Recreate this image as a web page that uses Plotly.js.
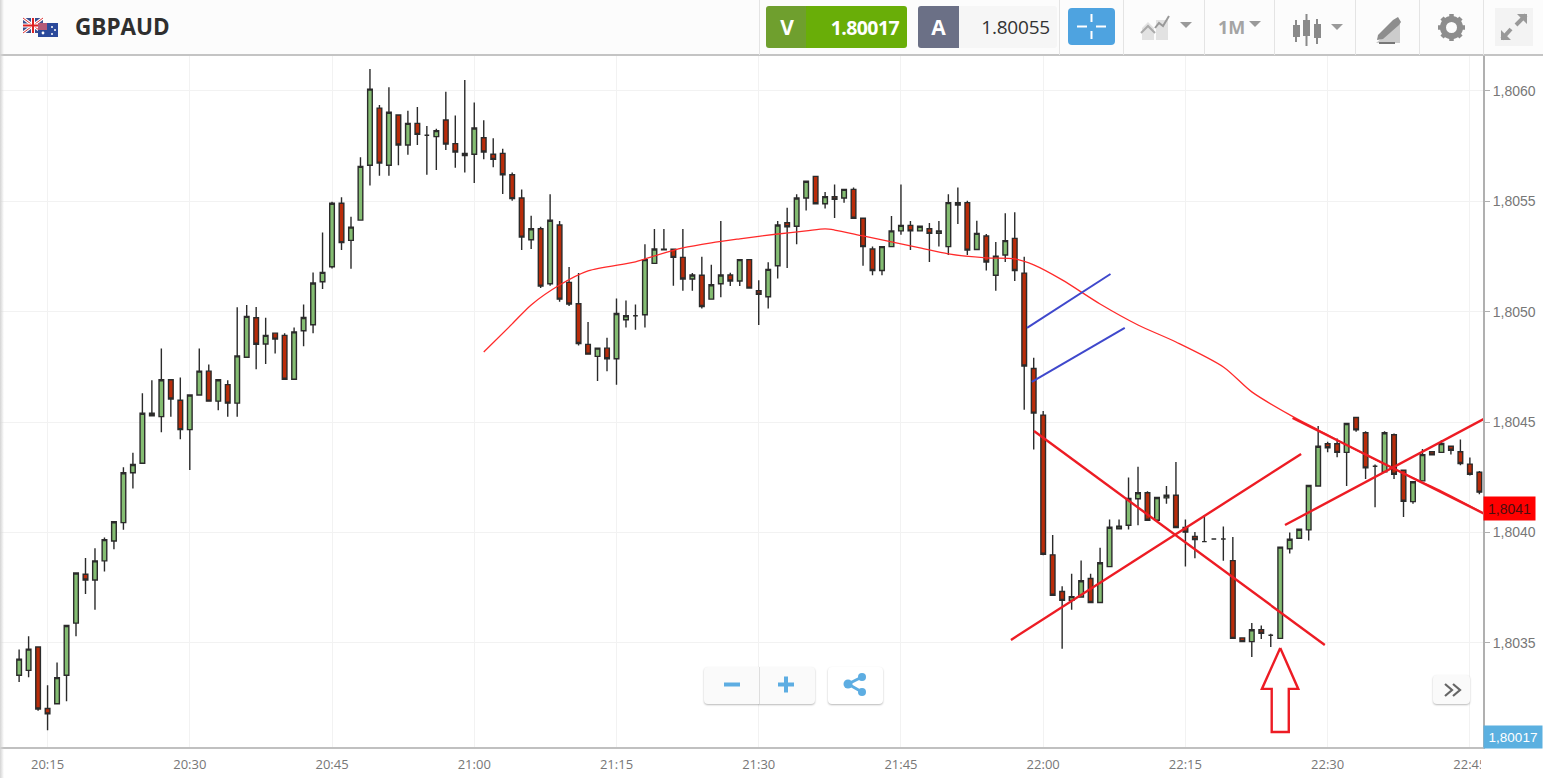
<!DOCTYPE html>
<html>
<head>
<meta charset="utf-8">
<script src="https://cdn.plot.ly/plotly-3.0.1.min.js"></script>
<style>
html,body{margin:0;padding:0;background:#fff;overflow:hidden;width:1543px;height:778px;font-family:"Open Sans",sans-serif}
#chart{position:absolute;left:0;top:0;width:1543px;height:778px}
.o{position:absolute;box-sizing:border-box}
.sep{position:absolute;top:0;width:1px;height:55px;background:#e4e4e4}
.btn{background:#fafafa;border-radius:4px;box-shadow:0 1px 2px rgba(0,0,0,.28)}
.t{display:flex;align-items:center;justify-content:center}
svg{position:absolute;overflow:visible}
</style>
</head>
<body>
<div id="chart"></div>
<div class="o" style="left:0;top:0;width:1543px;height:56px;background:#fcfcfc;border-bottom:2px solid #c4c4c4"></div>
<div class="o" style="left:0;top:0;width:4px;height:778px;background:linear-gradient(90deg,#d4d4d4,#fff0)"></div>
<div class="o" style="left:1481px;top:750px;width:62px;height:28px;background:#fff"></div>
<svg style="left:22px;top:17px" width="38" height="22" viewBox="0 0 38 22">
 <rect x="1" y="1" width="20" height="15" fill="#3b4f8f"/><path d="M1 1L21 16M21 1L1 16" stroke="#fff" stroke-width="3"/><path d="M1 1L21 16M21 1L1 16" stroke="#d33" stroke-width="1"/><path d="M11 1V16M1 8.5H21" stroke="#fff" stroke-width="4"/><path d="M11 1V16M1 8.5H21" stroke="#d22" stroke-width="2"/>
 <rect x="16" y="6" width="20" height="14" fill="#2b4a9b"/><rect x="16" y="6" width="9" height="7" fill="#b45a78"/><circle cx="30" cy="10" r="1" fill="#fff"/><circle cx="33" cy="13" r="1" fill="#fff"/><circle cx="30" cy="17" r="1" fill="#fff"/><circle cx="21" cy="16" r="1.4" fill="#fff"/>
</svg>
<div class="o" style="left:75px;top:11px;font-size:22.5px;font-weight:700;color:#2f2f2f;line-height:32px">GBPAUD</div>
<div class="sep" style="left:759px"></div><div class="sep" style="left:1059px"></div><div class="sep" style="left:1123px"></div><div class="sep" style="left:1204px"></div><div class="sep" style="left:1274px"></div><div class="sep" style="left:1355px"></div><div class="sep" style="left:1419px"></div><div class="sep" style="left:1483px"></div>
<div class="o t" style="left:766px;top:6px;width:42px;height:42px;background:#6f9f2e;color:#fff;font-weight:700;font-size:21px;border-radius:3px 0 0 3px">V</div>
<div class="o t" style="left:806px;top:6px;width:101px;height:42px;background:#69ae08;color:#fff;font-weight:700;font-size:19.5px;letter-spacing:-.6px;border-radius:0 3px 3px 0;justify-content:flex-end;padding-right:8px">1.80017</div>
<div class="o t" style="left:918px;top:6px;width:41px;height:42px;background:#6b7086;color:#fff;font-weight:700;font-size:21px;border-radius:3px 0 0 3px">A</div>
<div class="o t" style="left:959px;top:6px;width:98px;height:42px;background:#f6f6f6;color:#333;font-size:19px;letter-spacing:-.2px;border-radius:0 3px 3px 0;justify-content:flex-end;padding-right:7px">1.80055</div>
<div class="o" style="left:1068px;top:8px;width:47px;height:37px;background:#4ea3e0;border-radius:4px"></div>
<svg style="left:1068px;top:8px" width="47" height="37"><path d="M23.5 6V14M23.5 23V31M9 18.5H19M28 18.5H38" stroke="#fff" stroke-width="2"/></svg>
<svg style="left:1140px;top:14px" width="56" height="30"><path d="M2 26V14L8 8L14 14V26ZM16 26V6H28V26Z" fill="#e2e2e2"/><path d="M1 19L8 12L15 19" fill="none" stroke="#aaa" stroke-width="2"/><path d="M15 14L19 9L23 12L29 2" fill="none" stroke="#999" stroke-width="2"/><path d="M40 8H52L46 14Z" fill="#9a9a9a"/></svg>
<div class="o" style="left:1218px;top:14px;font-size:18px;font-weight:700;color:#a4a4a4;line-height:26px">1M</div>
<svg style="left:1248px;top:20px" width="14" height="8"><path d="M1 1H13L7 7Z" fill="#9a9a9a"/></svg>
<svg style="left:1292px;top:14px" width="56" height="32"><path d="M4 6V28M14.500 0V32M25 5V30" stroke="#8a8a8a" stroke-width="2"/><rect x="1" y="11" width="7" height="12" fill="#8a8a8a"/><rect x="11" y="6" width="7" height="16" fill="#8a8a8a"/><rect x="22" y="10" width="7" height="14" fill="#8a8a8a"/><path d="M39 10H51L45 16Z" fill="#9a9a9a"/></svg>
<svg style="left:1374px;top:16px" width="30" height="28"><path d="M2 27L26 27V7Z" fill="#ccc"/><path d="M3 24L4 19L19 4L24 1L27 6L25 9L9 23Z" fill="#8d8d8d"/><path d="M5 27L21 27" stroke="#777" stroke-width="2"/></svg>
<svg style="left:1437px;top:13px" width="29" height="29" viewBox="0 0 29 29"><circle cx="14.5" cy="14.500" r="8.500" fill="none" stroke="#8d8d8d" stroke-width="6"/><path d="M14.500 1V28M1 14.500H28M5 5L24 24M24 5L5 24" stroke="#8d8d8d" stroke-width="4.500" stroke-dasharray="4 19"/></svg>
<div class="o" style="left:1495px;top:8px;width:38px;height:38px;background:#f3f3f3"></div>
<svg style="left:1500px;top:13px" width="28" height="28"><path d="M16 12L26 2M11 16L2 26" stroke="#999" stroke-width="4"/><path d="M17 1H27V11ZM1 17V27H11Z" fill="#999"/></svg>
<div class="o btn" style="left:704px;top:667px;width:111px;height:37px"></div>
<div class="o" style="left:759px;top:667px;width:1px;height:37px;background:#dedede"></div>
<svg style="left:722px;top:674px" width="74" height="22"><path d="M2 10.500H18M56 10.500H72M64 2.500V18.500" stroke="#5dade2" stroke-width="4"/></svg>
<div class="o btn" style="left:828px;top:667px;width:55px;height:37px;background:#fff"></div>
<svg style="left:843px;top:672px" width="24" height="24"><path d="M5 12L19 5M5 12L19 20" stroke="#5dade2" stroke-width="3"/><circle cx="5" cy="12" r="4.500" fill="#5dade2"/><circle cx="19" cy="5" r="4" fill="#5dade2"/><circle cx="19" cy="20" r="4" fill="#5dade2"/></svg>
<div class="o btn" style="left:1433px;top:675px;width:37px;height:29px"></div>
<svg style="left:1443px;top:682px" width="20" height="16"><path d="M2 2L9 8L2 14M10 2L17 8L10 14" fill="none" stroke="#666" stroke-width="2.200"/></svg>
<script>
const day = '2024-03-05 ';
const firstCandleMinute = 20 * 60 + 12;
const priceOpen = [
1.803354,1.803376,1.803482,1.803203,1.803225,1.803354,1.80359,1.803811,1.803785,1.803872,
1.803962,1.804045,1.804271,1.804314,1.80454,1.804525,1.804692,1.804599,1.804466,1.804623,
1.804731,1.804595,1.80467,1.804586,1.804794,1.804973,1.804854,1.804903,1.804893,1.804694,
1.804914,1.804941,1.805136,1.805204,1.805491,1.805323,1.805415,1.805663,1.805922,1.805663,
1.805891,1.805755,1.805853,1.805799,1.805793,1.805868,1.805761,1.805717,1.805713,1.805788,
1.805713,1.805717,1.80562,1.805515,1.805326,1.805376,1.805127,1.805393,1.805133,1.805036,
1.804852,1.804798,1.804835,1.804787,1.804964,1.804982,1.804986,1.805219,1.805283,1.805283,
1.805246,1.805148,1.805165,1.805057,1.805127,1.805166,1.805139,1.805236,1.805095,1.805068,
1.805208,1.805403,1.805387,1.805515,1.805613,1.805489,1.805521,1.805515,1.805554,1.805423,
1.805284,1.805187,1.805295,1.805366,1.805391,1.805366,1.805376,1.805355,1.805295,1.805494,
1.805494,1.805282,1.805343,1.805165,1.805257,1.805332,1.805175,1.804743,1.804532,1.803899,
1.803733,1.803693,1.803708,1.803792,1.803683,1.803846,1.804017,1.804033,1.804153,1.80418,
1.804056,1.804157,1.804169,1.804023,1.803982,1.803959,1.803971,1.803971,1.803873,1.803523,
1.803506,1.80356,1.803535,1.803521,1.803927,1.803974,1.804012,1.804211,1.804402,1.804402,
1.804363,1.804521,1.804452,1.8043,1.804275,1.804443,1.804282,1.80414,1.804234,1.804366,
1.804363,1.804391,1.804366,1.80431,1.804273];
const priceHigh = [
1.803471,1.80353,1.803482,1.803309,1.803412,1.803579,1.803817,1.803885,1.803929,1.803978,
1.804049,1.804296,1.804361,1.804631,1.80469,1.804833,1.804692,1.804702,1.804623,1.804833,
1.804761,1.804692,1.80469,1.80502,1.80503,1.805021,1.804973,1.804903,1.804902,1.804929,
1.805033,1.805178,1.805359,1.805498,1.805518,1.80543,1.805699,1.806099,1.805936,1.806017,
1.805891,1.80591,1.805927,1.805841,1.805829,1.805996,1.805889,1.806049,1.805948,1.805867,
1.805785,1.805738,1.805631,1.805553,1.805435,1.805385,1.805532,1.805411,1.805202,1.805175,
1.804953,1.804835,1.804882,1.80506,1.805051,1.805033,1.805305,1.805375,1.805375,1.805283,
1.805375,1.805175,1.805249,1.805213,1.805411,1.805177,1.805236,1.805236,1.805142,1.805224,
1.805411,1.805471,1.805532,1.805591,1.805613,1.805542,1.805576,1.805554,1.805563,1.805423,
1.805295,1.805295,1.805434,1.805576,1.805411,1.805387,1.805402,1.805411,1.805532,1.805563,
1.805502,1.805412,1.805352,1.805316,1.805446,1.80545,1.805249,1.804792,1.804551,1.803989,
1.803757,1.803813,1.803873,1.803814,1.803931,1.804059,1.804059,1.804249,1.804298,1.804187,
1.804159,1.804211,1.80432,1.804059,1.804003,1.804079,1.803971,1.804027,1.80398,1.803523,
1.803591,1.803579,1.803542,1.803934,1.804,1.804015,1.804213,1.804482,1.804411,1.804426,
1.804494,1.804521,1.804459,1.804308,1.804459,1.804449,1.804282,1.80423,1.804378,1.804366,
1.804418,1.804391,1.804421,1.80434,1.804279];
const priceLow = [
1.803323,1.803345,1.803193,1.803105,1.803225,1.803236,1.803531,1.803722,1.803651,1.803824,
1.803925,1.804013,1.8042,1.804314,1.804529,1.804454,1.804525,1.804422,1.804283,1.804623,
1.804595,1.804554,1.804525,1.804525,1.804794,1.80474,1.804763,1.804811,1.804694,1.804694,
1.804844,1.804902,1.805103,1.805196,1.805279,1.805195,1.805415,1.805572,1.805616,1.805616,
1.805663,1.805711,1.805755,1.80562,1.805642,1.805732,1.805652,1.805631,1.805583,1.80569,
1.805654,1.805533,1.805503,1.805279,1.805284,1.805107,1.805118,1.805045,1.805026,1.804847,
1.804808,1.804686,1.80473,1.804669,1.804929,1.804918,1.804929,1.805219,1.80528,1.805118,
1.805095,1.805095,1.805015,1.805057,1.805066,1.805116,1.805116,1.805107,1.80494,1.805015,
1.80515,1.805198,1.805305,1.805458,1.805489,1.805467,1.805424,1.805494,1.805423,1.805208,
1.805165,1.805165,1.805295,1.805349,1.805279,1.805366,1.805225,1.805295,1.805257,1.805397,
1.805257,1.805282,1.805187,1.805095,1.805225,1.805139,1.804556,1.804376,1.803897,1.803716,
1.803474,1.803651,1.803708,1.803683,1.803683,1.803846,1.804017,1.804014,1.804033,1.804056,
1.804056,1.804131,1.804023,1.803846,1.803884,1.803959,1.803971,1.803872,1.803521,1.803506,
1.803437,1.803518,1.803482,1.803521,1.803905,1.803974,1.803964,1.804211,1.804364,1.804341,
1.804211,1.804456,1.804243,1.804115,1.804275,1.804243,1.804071,1.804131,1.804234,1.804352,
1.804363,1.804353,1.804305,1.804258,1.804174];
const priceClose = [
1.803427,1.803472,1.803201,1.803179,1.803343,1.803579,1.803817,1.803785,1.803872,1.803968,
1.804049,1.804271,1.804308,1.80454,1.804529,1.804692,1.804605,1.804466,1.804623,1.804731,
1.804595,1.804692,1.804586,1.8048,1.804979,1.804853,1.804893,1.804876,1.804694,1.804909,
1.804974,1.80513,1.805178,1.805491,1.805313,1.805383,1.805658,1.806008,1.805673,1.805903,
1.805755,1.805853,1.805803,1.805799,1.80582,1.805759,1.805723,1.805707,1.805832,1.805723,
1.80569,1.80562,1.805512,1.805338,1.805376,1.805116,1.805414,1.805057,1.805035,1.804856,
1.804808,1.804835,1.804787,1.804992,1.804982,1.804982,1.805236,1.805284,1.80528,1.805246,
1.805148,1.805166,1.805024,1.805122,1.805166,1.805139,1.805236,1.805107,1.805079,1.805192,
1.805393,1.805385,1.805515,1.805591,1.805489,1.805521,1.805509,1.805554,1.805423,1.805295,
1.805187,1.805295,1.805366,1.805391,1.805366,1.805387,1.805355,1.805366,1.805494,1.805483,
1.805279,1.805355,1.805225,1.805252,1.805322,1.805187,1.804754,1.804541,1.803902,1.803716,
1.803693,1.80371,1.803782,1.803683,1.803863,1.804024,1.804029,1.804154,1.80418,1.804056,
1.804159,1.804169,1.804023,1.804002,1.803968,1.803959,1.803971,1.803971,1.803521,1.803506,
1.80356,1.803544,1.803535,1.803934,1.80397,1.804015,1.804213,1.804391,1.804384,1.804363,
1.804494,1.804465,1.804293,1.8043,1.804452,1.804264,1.804142,1.80423,1.804353,1.804352,
1.804403,1.804373,1.804313,1.804264,1.804183];

const maTimes = ['21:01','21:04','21:06','21:09','21:12','21:17','21:19','21:22','21:25','21:28','21:32','21:35','21:37','21:38','21:41','21:44','21:47','21:50','21:54','21:57','21:59','22:02','22:06','22:10','22:14','22:19','22:22','22:26','22:29','22:33','22:37','22:42','22:46'];
const maValues = [1.804818,1.804945,1.805031,1.805121,1.805185,1.805226,1.805253,1.805289,1.805312,1.80533,1.805352,1.805366,1.805375,1.80537,1.805343,1.805316,1.805289,1.805262,1.805244,1.805239,1.805212,1.805144,1.805035,1.80494,1.804863,1.80475,1.804637,1.804533,1.804465,1.804374,1.804288,1.804188,1.804098];

const redLine1Times = ['21:59:02','22:29:42'];  const redLine1Prices = [1.80446,1.803491];
const redLine2Times = ['21:56:36','22:27:12'];  const redLine2Prices = [1.803514,1.804356];
const redLine3Times = ['22:25:30','22:47:51'];  const redLine3Prices = [1.804034,1.804546];
const redLine4Times = ['22:26:18','22:47:36'];  const redLine4Prices = [1.804519,1.804062];
const blueLine1Times = ['21:58:18','22:07:06']; const blueLine1Prices = [1.804927,1.805171];
const blueLine2Times = ['21:58:48','22:08:36']; const blueLine2Prices = [1.804682,1.804927];
const arrowTimes = ['22:25:00','22:26:54','22:25:54','22:25:54','22:24:06','22:24:06','22:23:04','22:25:00'];
const arrowPrices = [1.803477,1.803292,1.803292,1.803097,1.803097,1.803292,1.803292,1.803477];

const xTickTimes = ['20:15','20:30','20:45','21:00','21:15','21:30','21:45','22:00','22:15','22:30','22:45'];
const yTickValues = [1.8035,1.804,1.8045,1.805,1.8055,1.806];
const yTickLabels = ['1,8035','1,8040','1,8045','1,8050','1,8055','1,8060'];

const at = t => day + (t.length === 5 ? t + ':00' : t);
const candleTimes = priceOpen.map((_, i) => {
  const m = firstCandleMinute + i;
  return day + String(Math.floor(m / 60)).padStart(2, '0') + ':' + String(m % 60).padStart(2, '0') + ':00';
});
const seg = (xs, ys, color, width, shape) => ({type:'scatter', mode:'lines', x:xs.map(at), y:ys, line:{color, width, shape:shape || 'linear', smoothing:0.8}, cliponaxis:false, hoverinfo:'skip', showlegend:false});
const axisFont = '"Liberation Sans", Arial, sans-serif';

const traces = [
  {type:'candlestick', x:candleTimes, open:priceOpen, high:priceHigh, low:priceLow, close:priceClose,
   increasing:{fillcolor:'#84bd72', line:{color:'#2b2b2b', width:1.4}},
   decreasing:{fillcolor:'#b92c0a', line:{color:'#2b2b2b', width:1.4}},
   whiskerwidth:0, hoverinfo:'skip', showlegend:false},
  seg(maTimes, maValues, '#ff2a2a', 1.3, 'spline'),
  seg(blueLine1Times, blueLine1Prices, '#3f48cc', 2),
  seg(blueLine2Times, blueLine2Prices, '#3f48cc', 2),
  seg(redLine1Times, redLine1Prices, '#ed1c24', 2.4),
  seg(redLine2Times, redLine2Prices, '#ed1c24', 2.4),
  seg(redLine3Times, redLine3Prices, '#ed1c24', 2.4),
  seg(redLine4Times, redLine4Prices, '#ed1c24', 2.4),
  seg(arrowTimes, arrowPrices, '#ed1c24', 2.4)
];
const layout = {
  width:1543, height:778, paper_bgcolor:'#fff', plot_bgcolor:'#fff',
  margin:{l:0, r:60, t:56, b:31, pad:0}, showlegend:false, boxgap:0.3,
  font:{family:'"Open Sans", sans-serif', size:13, color:'#777'},
  xaxis:{type:'date', range:[day+'20:09:59', day+'22:46:23'], tickvals:xTickTimes.map(at), ticktext:xTickTimes,
    showgrid:true, gridcolor:'#f2f2f2', gridwidth:1, zeroline:false, showline:true, linecolor:'#c0c0c0', linewidth:1.5,
    ticks:'', ticklabelstandoff:5, rangeslider:{visible:false}, tickfont:{size:13, color:'#777'}, fixedrange:true},
  yaxis:{side:'right', range:[1.803029, 1.806158], tickvals:yTickValues, ticktext:yTickLabels,
    showgrid:true, gridcolor:'#f2f2f2', gridwidth:1, zeroline:false, showline:true, linecolor:'#b0b0b0', linewidth:2,
    ticks:'outside', ticklen:5, tickcolor:'#b0b0b0', tickwidth:1, tickfont:{family:axisFont, size:14, color:'#777'}, fixedrange:true},
  annotations:[
    {xref:'paper', yref:'y', x:1, y:1.804107, xanchor:'left', yanchor:'middle', showarrow:false, text:'1,8041', width:49, height:21, bgcolor:'#ff0000', font:{family:axisFont, size:14, color:'#4a0f0f'}},
    {xref:'paper', yref:'paper', x:1, y:0.0145, xanchor:'left', yanchor:'middle', showarrow:false, text:'1,80017', width:56, height:20, bgcolor:'#5bb0e0', font:{family:axisFont, size:13.5, color:'#fff'}}
  ]
};
Plotly.newPlot('chart', traces, layout, {displayModeBar:false, staticPlot:true});
</script>
</body>
</html>
